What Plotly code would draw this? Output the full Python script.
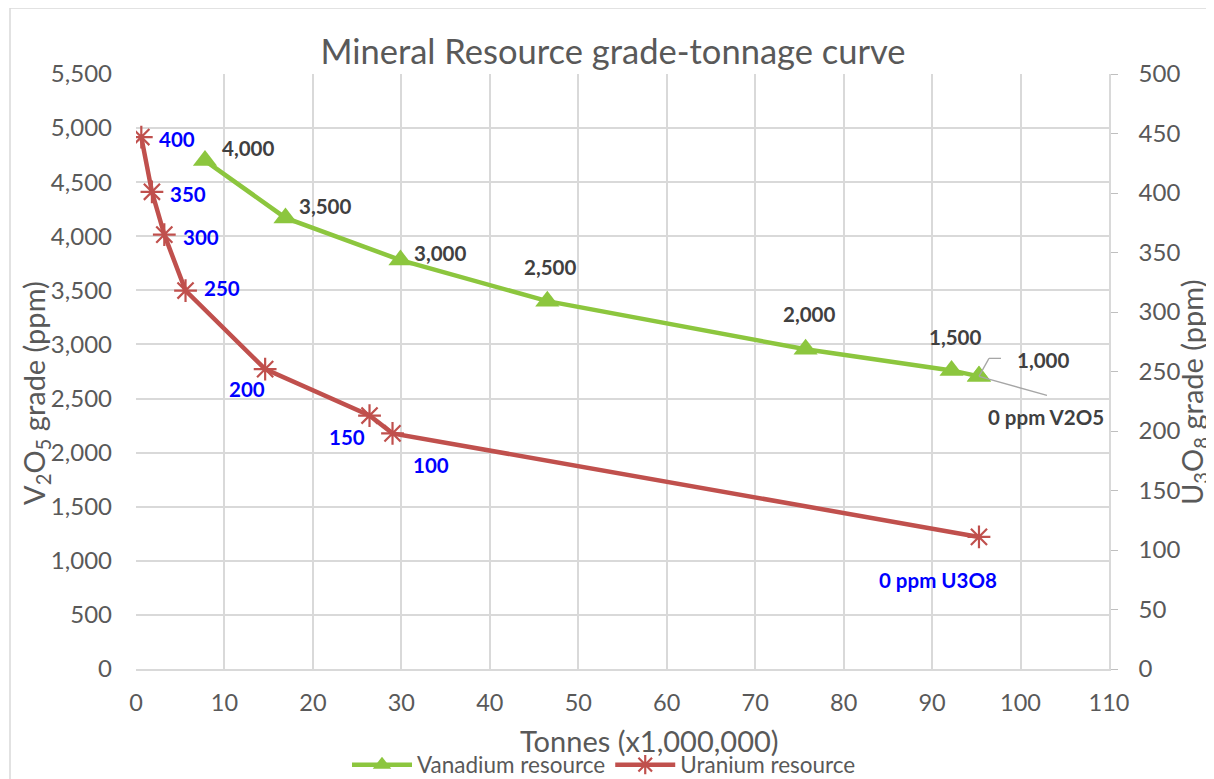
import plotly.graph_objects as go

# Vanadium series (left axis)
v_tonnes = [7.8, 16.9, 29.9, 46.5, 75.7, 92.2, 95.3, 95.3]
v_grade = [4700, 4170, 3780, 3400, 2955, 2760, 2705, 2705]
v_labels = ["4,000", "3,500", "3,000", "2,500", "2,000", "1,500", "1,000", "0 ppm V2O5"]

# Uranium series (right axis)
u_tonnes = [0.6, 1.8, 3.2, 5.6, 14.6, 26.4, 29.0, 95.3]
u_grade = [447, 401, 365, 318, 252, 213, 198, 111]
u_labels = ["400", "350", "300", "250", "200", "150", "100", "0 ppm U3O8"]

FONT = "Lato"
GREEN = "#8cc63e"
RED = "#c0504d"
GRAY = "#595959"
GRID = "#d9d9d9"

fig = go.Figure()
fig.add_trace(go.Scatter(
    x=v_tonnes, y=v_grade, name="Vanadium resource", mode="lines+markers",
    line=dict(color=GREEN, width=4.5),
    marker=dict(symbol="triangle-up", size=21, color=GREEN),
    yaxis="y"))
fig.add_trace(go.Scatter(
    x=u_tonnes, y=u_grade, name="Uranium resource", mode="lines+markers",
    line=dict(color=RED, width=4.5),
    marker=dict(symbol="asterisk-open", size=19, line=dict(color=RED, width=2.2)),
    yaxis="y2"))

# label offsets (pixels, +x right, +y down)
v_off = [(43, -13), (40, -12), (40, -7), (3, -34), (3, -35), (3, -33), (64, -16), (67, 41)]
u_off = [(36, 2), (36, 2), (37, 2), (36, -3), (-18, 20), (-23, 21), (38, 32), (-41, 43)]

ann = []
for i, (x, y, t) in enumerate(zip(v_tonnes, v_grade, v_labels)):
    dx, dy = v_off[i]
    ann.append(dict(x=x, y=y, xref="x", yref="y", text="<b>" + t + "</b>",
                    showarrow=False, xshift=dx, yshift=-dy,
                    font=dict(family=FONT, size=20.5, color="#404040")))
for i, (x, y, t) in enumerate(zip(u_tonnes, u_grade, u_labels)):
    dx, dy = u_off[i]
    ann.append(dict(x=x, y=y, xref="x", yref="y2", text="<b>" + t + "</b>",
                    showarrow=False, xshift=dx, yshift=-dy,
                    font=dict(family=FONT, size=20.5, color="#0000ff")))

def leader(x, y, x0, y0, x1, y1):
    return dict(type="line", xref="x", yref="y", xsizemode="pixel", ysizemode="pixel",
                xanchor=x, yanchor=y, x0=x0, y0=y0, x1=x1, y1=y1,
                line=dict(color="#a6a6a6", width=1.3), layer="above")

# page is offset by the browser's 8px body margin: figure spans 8..1214 x 8..779
W, H = 1206, 771
ML, MT = 128, 66
MR = W - (1109 - 8)
MB = H - (669 - 8)
PW = W - ML - MR
PH = H - MT - MB

def px(xs):
    return (xs - 8 - ML) / PW

def py(ys):
    return (H - MB - (ys - 8)) / PH

# axis titles as annotations (positioned like the reference)
ann.append(dict(xref="paper", yref="paper", x=px(649), y=py(740), xanchor="center",
                yanchor="middle", showarrow=False, text="Tonnes (x1,000,000)", borderpad=0,
                font=dict(family=FONT, size=29, color=GRAY)))
ann.append(dict(xref="paper", yref="paper", x=px(35), y=py(393), xanchor="center",
                yanchor="middle", showarrow=False, textangle=-90, borderpad=0,
                text="V<sub>2</sub>O<sub>5</sub> grade (ppm)",
                font=dict(family=FONT, size=29, color=GRAY)))
ann.append(dict(xref="paper", yref="paper", x=px(1193), y=py(393), xanchor="center",
                yanchor="middle", showarrow=False, textangle=-90, borderpad=0,
                text="U<sub>3</sub>O<sub>8</sub> grade (ppm)",
                font=dict(family=FONT, size=29, color=GRAY)))

shapes = [
    dict(type="rect", xref="paper", yref="paper", x0=px(10), x1=px(1240),
         y0=py(800), y1=py(8), line=dict(color="#d9d9d9", width=1.5), layer="below"),
    leader(v_tonnes[6], v_grade[6], 0, 0, 10, 18),
    leader(v_tonnes[6], v_grade[6], 10, 18, 22, 18),
    leader(v_tonnes[7], v_grade[7], 0, 0, 68, -19),
]

fig.update_layout(
    width=W, height=H,
    margin=dict(l=ML, r=MR, t=MT, b=MB, autoexpand=False),
    paper_bgcolor="white", plot_bgcolor="white",
    font=dict(family=FONT, color=GRAY),
    title=dict(text="Mineral Resource grade-tonnage curve", x=px(613), xanchor="center",
               xref="paper", y=(H - (52 - 8)) / H, yanchor="middle",
               font=dict(family=FONT, size=34.5, color=GRAY)),
    xaxis=dict(range=[0, 110], dtick=10, showgrid=True, gridcolor=GRID, gridwidth=1.5,
               zeroline=False, showline=True, linecolor=GRID, linewidth=1.5,
               tickfont=dict(size=23.5, color=GRAY), ticks="", ticklabelstandoff=12,
               automargin=False),
    yaxis=dict(range=[0, 5500], dtick=500, tickformat=",", showgrid=True, gridcolor=GRID,
               gridwidth=1.5, zeroline=False, showline=False, automargin=False,
               tickfont=dict(size=24, color=GRAY), ticks="", ticklabelstandoff=23),
    yaxis2=dict(range=[0, 500], dtick=50, overlaying="y", side="right", showgrid=False,
                zeroline=False, showline=True, linecolor=GRID, linewidth=1.5, automargin=False,
                ticks="outside", ticklen=7, tickcolor="#bfbfbf", ticklabelstandoff=16,
                tickfont=dict(size=24, color=GRAY)),
    legend=dict(orientation="h", x=px(604), xanchor="center", y=py(765), yanchor="middle",
                font=dict(size=22.5, color=GRAY), bgcolor="rgba(0,0,0,0)",
                itemwidth=60, tracegroupgap=0),
    annotations=ann,
    shapes=shapes,
)

fig.write_html("out.html")
